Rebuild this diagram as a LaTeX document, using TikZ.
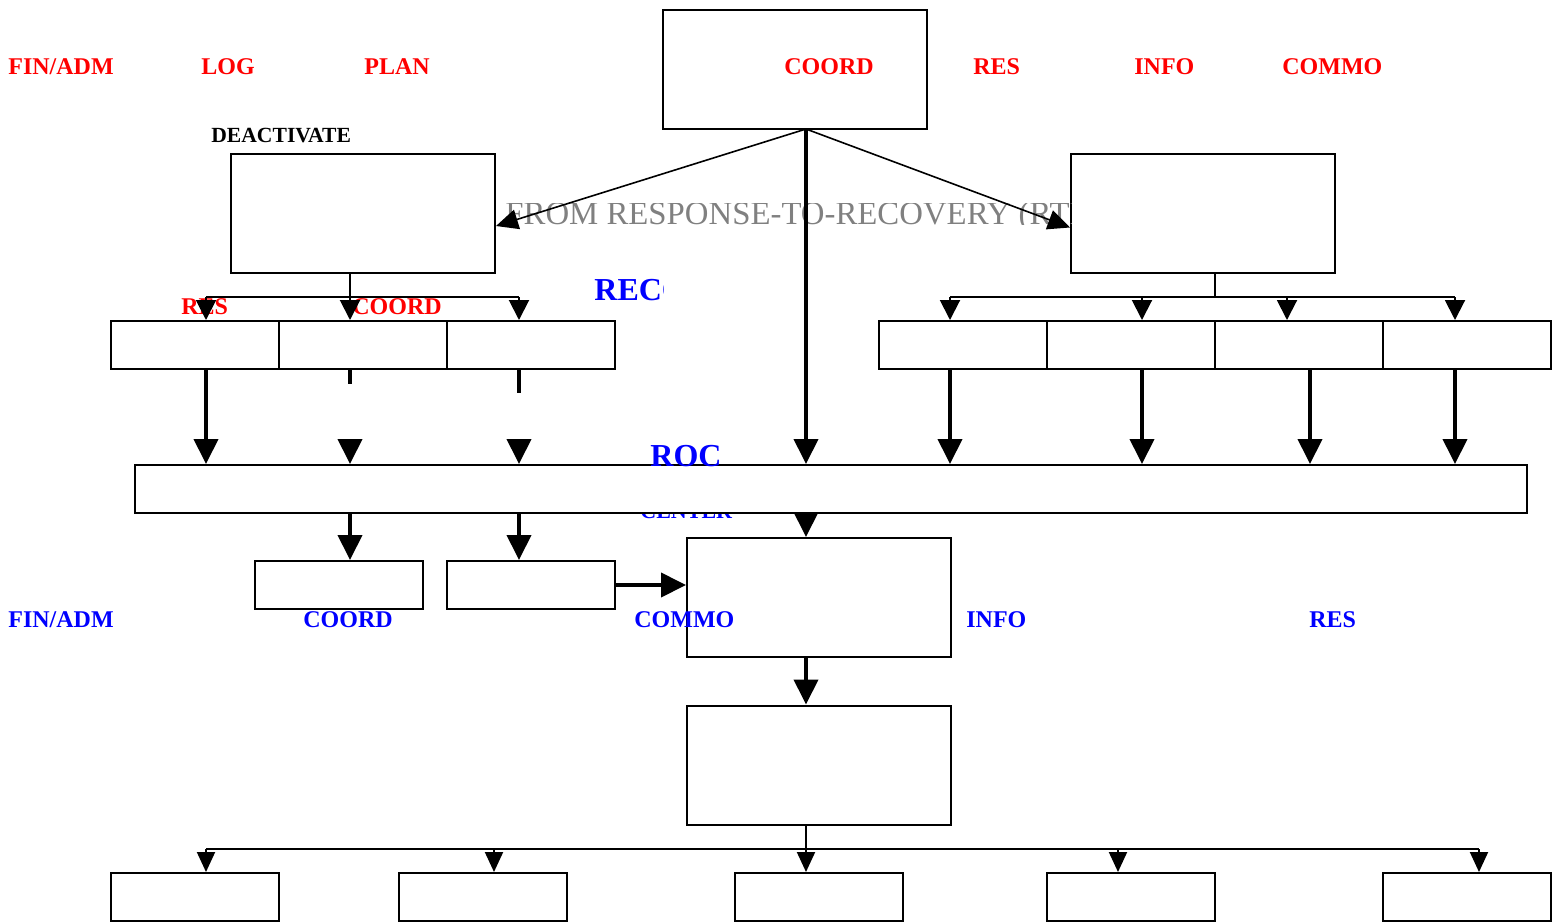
\documentclass[tikz,border=0pt]{standalone}
\usepackage{fontspec}
\setmainfont{Liberation Serif}
\usetikzlibrary{arrows.meta}

\begin{document}
\begin{tikzpicture}[x=0.5pt,y=-0.5pt,
  big/.style={draw,line width=1pt,minimum width=132pt,minimum height=59.5pt,inner sep=0pt},
  cell/.style={draw,line width=1pt,minimum width=84pt,minimum height=24pt,inner sep=0pt},
  heavy/.style={line width=2pt,-{Triangle[length=12.5pt,width=12pt]}},
  slim/.style={line width=0.8pt,-{Triangle[length=11pt,width=10pt]}},
  fork/.style={line width=1pt,-{Triangle[length=10pt,width=10pt]}},
  leaf/.style={line width=1pt,-{Triangle[length=10pt,width=9pt]}},
  lbl/.style={anchor=base west,inner sep=0pt,font=\bfseries\fontsize{12}{14}\selectfont},
  redlbl/.style={lbl,text=red},
  bluelbl/.style={lbl,text=blue}]
  \useasboundingbox (0,0) rectangle (1559,922);

  \node[redlbl] (tfin) at (8,74.5) {FIN/ADM};
  \node[redlbl] (tlog) at (201,74.5) {LOG};
  \node[redlbl] (tplan) at (364,74.5) {PLAN};
  \node[redlbl] (tres) at (973,74.5) {RES};
  \node[redlbl] (tinfo) at (1134,74.5) {INFO};
  \node[redlbl] (tcommo) at (1282,74.5) {COMMO};
  \node[lbl,font=\bfseries\fontsize{10.8}{12}\selectfont] (tdeact) at (211,142) {DEACTIVATE};

  \node[big] (coord) at (795,69.5) {};
  \node[redlbl] (tcoord) at (784,74.5) {COORD};
  \node[big] (deact) at (363,213.5) {};
  \node[big] (rtr) at (1203,213.5) {};

  \begin{scope}
    \clip (497,203.5) rectangle (1071,224);
    \node[anchor=base west,inner sep=0pt,text=gray,font=\fontsize{16.4}{19}\selectfont] (tfrom) at (505,224) {FROM RESPONSE-TO-RECOVERY (RTR)};
  \end{scope}
  \begin{scope}
    \clip (580,260) rectangle (663,310);
    \node[anchor=base west,inner sep=0pt,text=blue,font=\bfseries\fontsize{16}{19}\selectfont] (trec) at (594,300) {RECO};
  \end{scope}

  \node[cell] (l1) at (195,345) {};
  \node[cell] (l2) at (363,345) {};
  \node[cell] (l3) at (531,345) {};
  \node[cell] (r1) at (963,345) {};
  \node[cell] (r2) at (1131,345) {};
  \node[cell] (r3) at (1299,345) {};
  \node[cell] (r4) at (1467,345) {};
  \node[redlbl] (tlres) at (181,314) {RES};
  \node[redlbl] (tlcoord) at (352,314) {COORD};

  \node[anchor=base west,inner sep=0pt,text=blue,font=\bfseries\fontsize{11}{13}\selectfont] (tcenter) at (640,518) {CENTER};
  \node[draw,fill=white,line width=1pt,minimum width=696pt,minimum height=24pt,inner sep=0pt] (roc) at (831,489) {};
  \node[anchor=base west,inner sep=0pt,text=blue,font=\bfseries\fontsize{16}{19}\selectfont] (troc) at (650,466) {ROC};

  \node[cell] (b1) at (339,585) {};
  \node[cell] (b2) at (531,585) {};
  \node[big] (ops) at (819,597.5) {};
  \node[big] (lower) at (819,765) {};
  \node[bluelbl] (bfin) at (8,627) {FIN/ADM};
  \node[bluelbl] (bcoord) at (303,627) {COORD};
  \node[bluelbl] (bcommo) at (634,627) {COMMO};
  \node[bluelbl] (binfo) at (966,627) {INFO};
  \node[bluelbl] (bres) at (1309,627) {RES};

  \node[cell] (f1) at (195,897) {};
  \node[cell] (f2) at (483,897) {};
  \node[cell] (f3) at (819,897) {};
  \node[cell] (f4) at (1131,897) {};
  \node[cell] (f5) at (1467,897) {};

  \coordinate (hub) at (806,129);
  \draw[slim] (hub) -- ([yshift=-6.25pt]deact.east);
  \draw[slim] (hub) -- ([yshift=-7pt]rtr.west);
  \draw[heavy] (hub) -- (hub |- roc.north);

  \coordinate (lsplit) at (350,297);
  \draw[line width=1pt] (deact.south -| lsplit) -- (lsplit);
  \draw[line width=1pt] (206,0 |- lsplit) -- (519,0 |- lsplit);
  \foreach \x in {206,350,519}
    \draw[fork] (\x,0 |- lsplit) -- (\x,0 |- l1.north);

  \coordinate (rsplit) at (1215,297);
  \draw[line width=1pt] (rtr.south -| rsplit) -- (rsplit);
  \draw[line width=1pt] (950,0 |- rsplit) -- (1455,0 |- rsplit);
  \foreach \x in {950,1142,1287,1455}
    \draw[fork] (\x,0 |- rsplit) -- (\x,0 |- r1.north);

  \draw[heavy] (206,0 |- l1.south) -- (206,0 |- roc.north);
  \draw[line width=2pt] (350,0 |- l2.south) -- ++(0,14);
  \draw[line width=2pt] (519,0 |- l3.south) -- ++(0,23);
  \draw[heavy] (350,441) -- (350,0 |- roc.north);
  \draw[heavy] (519,441) -- (519,0 |- roc.north);
  \foreach \x in {950,1142,1310,1455}
    \draw[heavy] (\x,0 |- r1.south) -- (\x,0 |- roc.north);

  \draw[heavy] (350,0 |- roc.south) -- (350,0 |- b1.north);
  \draw[heavy] (519,0 |- roc.south) -- (519,0 |- b2.north);
  \draw[heavy] (hub |- roc.south) -- (hub |- ops.north);
  \draw[heavy] (b2.east) -- (b2.east -| ops.west);
  \draw[heavy] (hub |- ops.south) -- (hub |- lower.north);

  \coordinate (bsplit) at (806,849);
  \draw[line width=1pt] (hub |- lower.south) -- (bsplit);
  \draw[line width=1pt] (206,0 |- bsplit) -- (1479,0 |- bsplit);
  \foreach \x in {206,494,806,1118,1479}
    \draw[leaf] (\x,0 |- bsplit) -- (\x,0 |- f1.north);
\end{tikzpicture}
\end{document}
